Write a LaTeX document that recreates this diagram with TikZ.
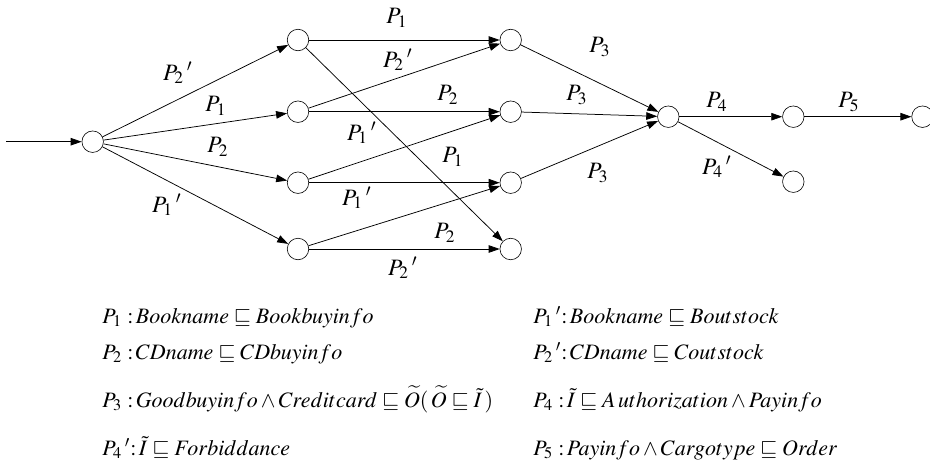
\documentclass[tikz,border=0pt]{standalone}
\usepackage{mathptmx}
\usetikzlibrary{arrows.meta}
\begin{document}
\begin{tikzpicture}[x=1pt,y=-1pt,
  st/.style={circle,draw,line width=0.6pt,minimum size=21.5pt,inner sep=0pt},
  ar/.style={-{Triangle[length=11pt,width=7.5pt]},line width=0.75pt},
  lb/.style={scale=2.35,inner sep=0pt},
  lg/.style={scale=2.2,anchor=base west,inner sep=0pt}]
\useasboundingbox (0,0) rectangle (930,464);
% nodes
\coordinate (s) at (6,141.7);
\node[st] (n0) at (92.7,141.7) {};
\node[st] (a1) at (298,40) {};
\node[st] (a2) at (298,111.7) {};
\node[st] (a3) at (298,182.7) {};
\node[st] (a4) at (298,249) {};
\node[st] (b1) at (510.7,40) {};
\node[st] (b2) at (510.7,111.7) {};
\node[st] (b3) at (510.7,182.7) {};
\node[st] (b4) at (510.7,249) {};
\node[st] (m) at (668.3,116.7) {};
\node[st] (p4) at (793.3,116.7) {};
\node[st] (q4) at (793.3,181.7) {};
\node[st] (f) at (922.5,116.7) {};
% edges
\draw[ar] (s) -- (n0);
\draw[ar] (n0) -- (a1);
\draw[ar] (n0) -- (a2);
\draw[ar] (n0) -- (a3);
\draw[ar] (n0) -- (a4);
\draw[ar] (a1) -- (b1);
\draw[ar] (a1) -- (b4);
\draw[ar] (a2) -- (b1);
\draw[ar] (a2) -- (b2);
\draw[ar] (a3) -- (b2);
\draw[ar] (a3) -- (b3);
\draw[ar] (a4) -- (b3);
\draw[ar] (a4) -- (b4);
\draw[ar] (b1) -- (m);
\draw[ar] (b2) -- (m);
\draw[ar] (b3) -- (m);
\draw[ar] (m) -- (p4);
\draw[ar] (m) -- (q4);
\draw[ar] (p4) -- (f);
% edge labels
\node[lb] (l1) at (178,73) {$P_2\,{}'$};
\node[lb] (l2) at (216,106) {$P_1$};
\node[lb] (l3) at (218,147) {$P_2$};
\node[lb] (l4) at (167,205) {$P_1\,{}'$};
\node[lb] (l5) at (397,18) {$P_1$};
\node[lb] (l6) at (398,60) {$P_2\,{}'$};
\node[lb] (l7) at (448,95) {$P_2$};
\node[lb] (l8) at (362,133) {$P_1\,{}'$};
\node[lb] (l9) at (453,157) {$P_1$};
\node[lb] (l10) at (357,198) {$P_1\,{}'$};
\node[lb] (l11) at (445,233) {$P_2$};
\node[lb] (l12) at (403,268) {$P_2\,{}'$};
\node[lb] (l13) at (600,47) {$P_3$};
\node[lb] (l14) at (577,95) {$P_3$};
\node[lb] (l15) at (598,173) {$P_3$};
\node[lb] (l16) at (717,102) {$P_4$};
\node[lb] (l17) at (849,102) {$P_5$};
\node[lb] (l18) at (717,167) {$P_4\,{}'$};
% legend
\node[lg] (g1) at (102,323) {$P_1\;{:}\,Bookname \sqsubseteq Bookbuyinfo$};
\node[lg] (g2) at (102,359) {$P_2\;{:}\,CDname \sqsubseteq CDbuyinfo$};
\node[lg] (g3) at (102,407) {$P_3\;{:}\,Goodbuyinfo \wedge Creditcard \sqsubseteq \widetilde{O}(\,\widetilde{O} \sqsubseteq \tilde{I}\,)$};
\node[lg] (g4) at (102,455) {$P_4\,{}'{:}\,\tilde{I} \sqsubseteq Forbiddance$};
\node[lg] (h1) at (533,323) {$P_1\,{}'{:}\,Bookname \sqsubseteq Boutstock$};
\node[lg] (h2) at (533,359) {$P_2\,{}'{:}\,CDname \sqsubseteq Coutstock$};
\node[lg] (h3) at (533,407) {$P_4\;{:}\,\tilde{I} \sqsubseteq A\,uthorization \wedge Payinfo$};
\node[lg] (h4) at (533,455) {$P_5\;{:}\,Payinfo \wedge Cargotype \sqsubseteq Order$};
\end{tikzpicture}
\end{document}
